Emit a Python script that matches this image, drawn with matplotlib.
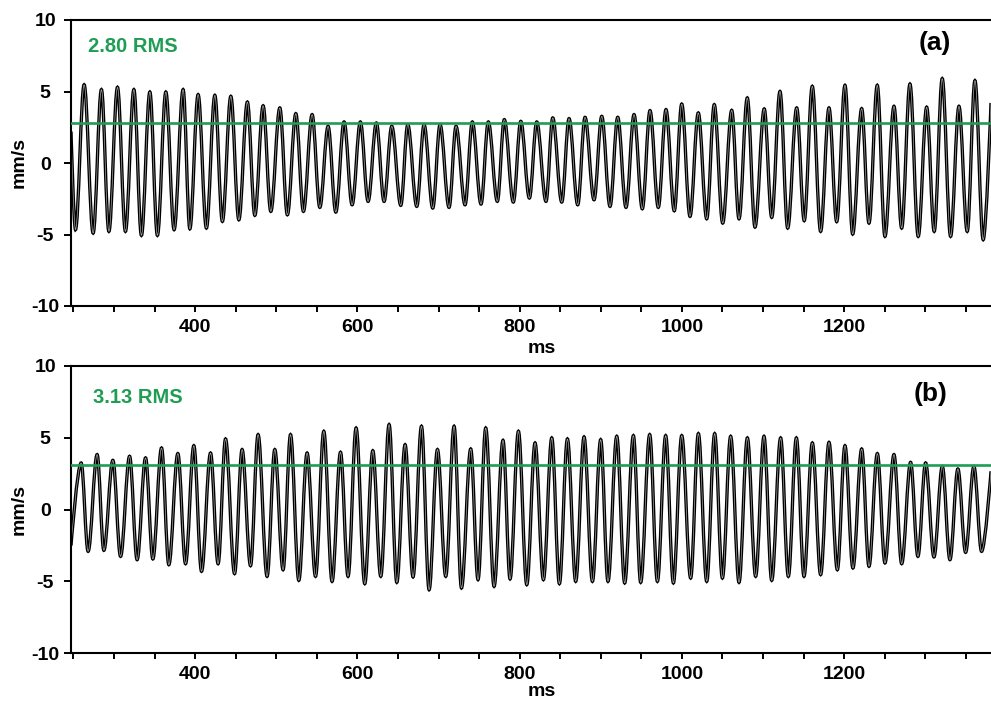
import matplotlib
matplotlib.use('Agg')
import matplotlib.pyplot as plt
from matplotlib.path import Path
from matplotlib.patches import PathPatch
from matplotlib.ticker import MultipleLocator

plt.rcParams['font.family'] = ['Liberation Sans', 'DejaVu Sans']
plt.rcParams['font.weight'] = 'bold'
plt.rcParams['axes.unicode_minus'] = False

# time window shown (ms)
t_lo, t_hi = 247, 1381

# --- panel (a): velocity trace, extrema read per cycle ---
a_rms = 2.80
a_start = (247, 2.2)
a_end = (1381, 4.2)
a_peak_t = [263.2, 284.5, 304.3, 324.5, 344.2, 363.9, 385.2, 403.7, 424.3, 444.0,
            464.4, 483.8, 504.4, 524.1, 544.2, 563.9, 583.6, 603.7, 623.4, 642.4,
            662.1, 682.2, 701.9, 721.6, 741.7, 761.4, 781.1, 801.4, 821.1, 840.8,
            860.9, 880.6, 901.2, 920.9, 941.0, 960.7, 980.4, 999.8, 1020.2, 1039.9,
            1061.4, 1080.6, 1101.5, 1120.9, 1141.5, 1160.7, 1181.3, 1201.0, 1221.6, 1240.8,
            1261.4, 1281.1, 1301.7, 1320.9, 1341.5, 1361.2]
a_peak_v = [5.47, 5.13, 5.29, 5.13, 4.96, 4.96, 5.13, 4.78, 4.73, 4.66,
            4.26, 4.00, 3.85, 3.45, 3.38, 2.56, 2.87, 2.87, 2.80, 2.56,
            2.68, 2.68, 2.68, 2.56, 2.87, 2.87, 3.03, 2.91, 2.87, 3.15,
            3.10, 3.19, 3.26, 3.19, 3.38, 3.66, 3.73, 4.12, 3.50, 4.08,
            3.68, 4.55, 3.78, 5.00, 3.85, 5.36, 3.85, 5.43, 3.80, 5.43,
            3.96, 5.52, 3.90, 5.90, 3.96, 5.76]
a_trough_t = [252.5, 274.3, 293.7, 314.1, 333.8, 353.5, 374.1, 393.5, 413.9, 433.6,
              453.9, 473.6, 493.3, 513.7, 533.5, 553.7, 573.4, 593.5, 613.2, 632.9,
              653.5, 673.2, 692.9, 713.0, 732.7, 752.4, 772.5, 792.2, 812.0, 832.5,
              851.9, 871.6, 891.7, 911.4, 931.1, 951.2, 970.9, 990.6, 1010.0, 1030.6,
              1050.3, 1070.4, 1090.1, 1110.7, 1130.4, 1150.8, 1171.0, 1190.8, 1210.5, 1230.6,
              1250.3, 1270.9, 1291.3, 1311.0, 1331.2, 1351.7, 1371.4]
a_trough_v = [-4.66, -4.90, -4.78, -4.78, -5.06, -5.06, -4.66, -4.60, -4.55, -4.08,
              -3.97, -3.66, -3.38, -3.62, -3.38, -3.10, -3.43, -2.92, -2.68, -2.68,
              -2.96, -3.03, -3.15, -3.10, -2.92, -2.87, -2.68, -2.73, -2.45, -2.68,
              -2.73, -2.92, -2.57, -3.03, -3.10, -3.20, -3.10, -3.34, -3.73, -3.90,
              -4.20, -3.90, -4.48, -3.80, -4.55, -4.03, -4.78, -4.10, -4.97, -4.20,
              -5.13, -4.55, -5.13, -4.78, -5.13, -4.78, -5.36]

# --- panel (b) ---
b_rms = 3.13
b_start = (247, -2.5)
b_end = (1381, 2.67)
b_peak_t = [259.5, 279.2, 298.6, 319.2, 338.9, 358.6, 378.7, 398.4, 419.0, 437.5,
            457.9, 477.6, 498.2, 517.6, 538.0, 558.6, 579.2, 598.4, 619.0, 639.1,
            658.8, 679.0, 698.7, 719.2, 739.7, 758.2, 779.5, 798.5, 819.0, 839.6,
            858.9, 879.4, 899.9, 919.7, 940.2, 960.3, 980.0, 999.8, 1020.3, 1040.4,
            1060.1, 1080.7, 1101.2, 1121.7, 1141.1, 1160.8, 1181.3, 1201.0, 1221.6, 1240.9,
            1261.4, 1281.9, 1300.4, 1321.0, 1340.2, 1359.9]
b_peak_v = [3.25, 3.83, 3.43, 3.71, 3.60, 4.29, 3.90, 4.45, 3.94, 4.92,
            4.18, 5.22, 4.18, 5.22, 3.94, 5.45, 3.99, 5.68, 4.10, 5.92,
            4.52, 5.80, 4.18, 5.80, 4.22, 5.68, 4.82, 5.45, 4.64, 4.99,
            4.92, 5.06, 4.87, 5.10, 5.15, 5.22, 5.15, 5.15, 5.29, 5.29,
            5.10, 4.99, 5.10, 4.99, 4.99, 4.64, 4.68, 4.45, 4.22, 3.90,
            3.83, 3.29, 3.25, 3.01, 2.83, 3.01]
b_trough_t = [268.1, 287.5, 308.1, 328.5, 347.9, 367.6, 388.2, 407.9, 428.3, 448.6,
              468.3, 488.7, 508.4, 527.8, 548.4, 568.8, 588.5, 609.1, 628.8, 648.6,
              668.6, 688.4, 708.9, 728.3, 748.7, 768.5, 788.2, 808.8, 829.3, 849.0,
              869.1, 889.7, 908.9, 929.5, 949.2, 969.8, 989.5, 1010.8, 1030.6, 1049.9,
              1070.4, 1090.9, 1110.7, 1131.2, 1150.5, 1171.0, 1191.6, 1210.8, 1230.6, 1250.3,
              1270.9, 1290.9, 1310.7, 1330.4, 1349.7, 1369.4]
b_trough_v = [-2.90, -2.83, -3.25, -3.48, -3.43, -3.83, -3.76, -4.29, -3.76, -4.45,
              -3.90, -4.64, -4.18, -4.92, -4.64, -4.99, -4.64, -5.15, -4.64, -5.06,
              -4.68, -5.57, -4.64, -5.45, -4.87, -5.34, -4.82, -5.22, -4.87, -5.15,
              -4.99, -4.99, -4.99, -5.10, -5.06, -4.99, -5.10, -4.76, -4.99, -4.76,
              -5.06, -4.64, -4.92, -4.64, -4.64, -4.52, -4.18, -4.06, -3.94, -3.71,
              -3.76, -3.25, -3.29, -3.48, -2.97, -2.90]

green = '#1f9d55'


def wave_path(start, end, peak_t, peak_v, trough_t, trough_v):
    # join the extrema with cubic segments, flat at every peak/trough
    pts = [start] + sorted(zip(peak_t + trough_t, peak_v + trough_v)) + [end]
    verts = [pts[0]]
    codes = [Path.MOVETO]
    n = len(pts) - 1
    for i in range(n):
        (x0, y0), (x1, y1) = pts[i], pts[i + 1]
        dx = x1 - x0
        h0 = 0 if i == 0 else 0.36 * dx
        h1 = 0 if i == n - 1 else 0.36 * dx
        verts += [(x0 + h0, y0), (x1 - h1, y1), (x1, y1)]
        codes += [Path.CURVE4] * 3
    return Path(verts, codes)


def draw_panel(ax, path, rms, tag, rms_xy, tag_xy, ms_y):
    ax.add_patch(PathPatch(path, fill=False, edgecolor='black', lw=2.4, zorder=2))
    ax.add_patch(PathPatch(path, fill=False, edgecolor='#a8a8a8', lw=0.5, zorder=2.1))
    ax.axhline(rms, color=green, lw=1.9, zorder=3)
    ax.set_xlim(t_lo, t_hi)
    ax.set_ylim(-10, 10)
    ax.xaxis.set_major_locator(MultipleLocator(200))
    ax.xaxis.set_minor_locator(MultipleLocator(50))
    ax.yaxis.set_major_locator(MultipleLocator(5))
    ax.tick_params(axis='x', which='both', direction='out', length=4, width=1.4,
                   labelsize=14, pad=5)
    ax.tick_params(axis='y', direction='out', length=5, width=1.4, labelsize=14, pad=13.5)
    for lab in ax.get_yticklabels():
        lab.set_horizontalalignment('center')
    for side in ['left', 'bottom', 'top']:
        ax.spines[side].set_linewidth(1.5)
    ax.spines['right'].set_visible(False)
    ax.set_ylabel('mm/s', fontsize=14, fontweight='bold', va='center')
    ax.yaxis.set_label_coords(-0.0568, 0.5)
    ax.set_xlabel('ms', fontsize=14, fontweight='bold', va='center')
    ax.xaxis.set_label_coords(0.5116, ms_y)
    ax.text(rms_xy[0], rms_xy[1], '{:.2f} RMS'.format(rms), color=green, fontsize=14.5,
            fontweight='bold', ha='left', va='center', transform=ax.transAxes)
    ax.text(tag_xy[0], tag_xy[1], tag, fontsize=19, fontweight='bold',
            ha='center', va='center', transform=ax.transAxes)


fig = plt.figure(figsize=(9.91, 7.01), dpi=100)
ax_a = fig.add_axes([71 / 991, 1 - 306 / 701, 920 / 991, 286 / 701])
ax_b = fig.add_axes([71 / 991, 1 - 653.3 / 701, 920 / 991, 287.3 / 701])

draw_panel(ax_a, wave_path(a_start, a_end, a_peak_t, a_peak_v, a_trough_t, a_trough_v),
           a_rms, '(a)', (0.0185, 0.909), (0.939, 0.918), -0.150)
draw_panel(ax_b, wave_path(b_start, b_end, b_peak_t, b_peak_v, b_trough_t, b_trough_v),
           b_rms, '(b)', (0.0239, 0.890), (0.934, 0.904), -0.134)

fig.savefig('out.png', dpi=100)
